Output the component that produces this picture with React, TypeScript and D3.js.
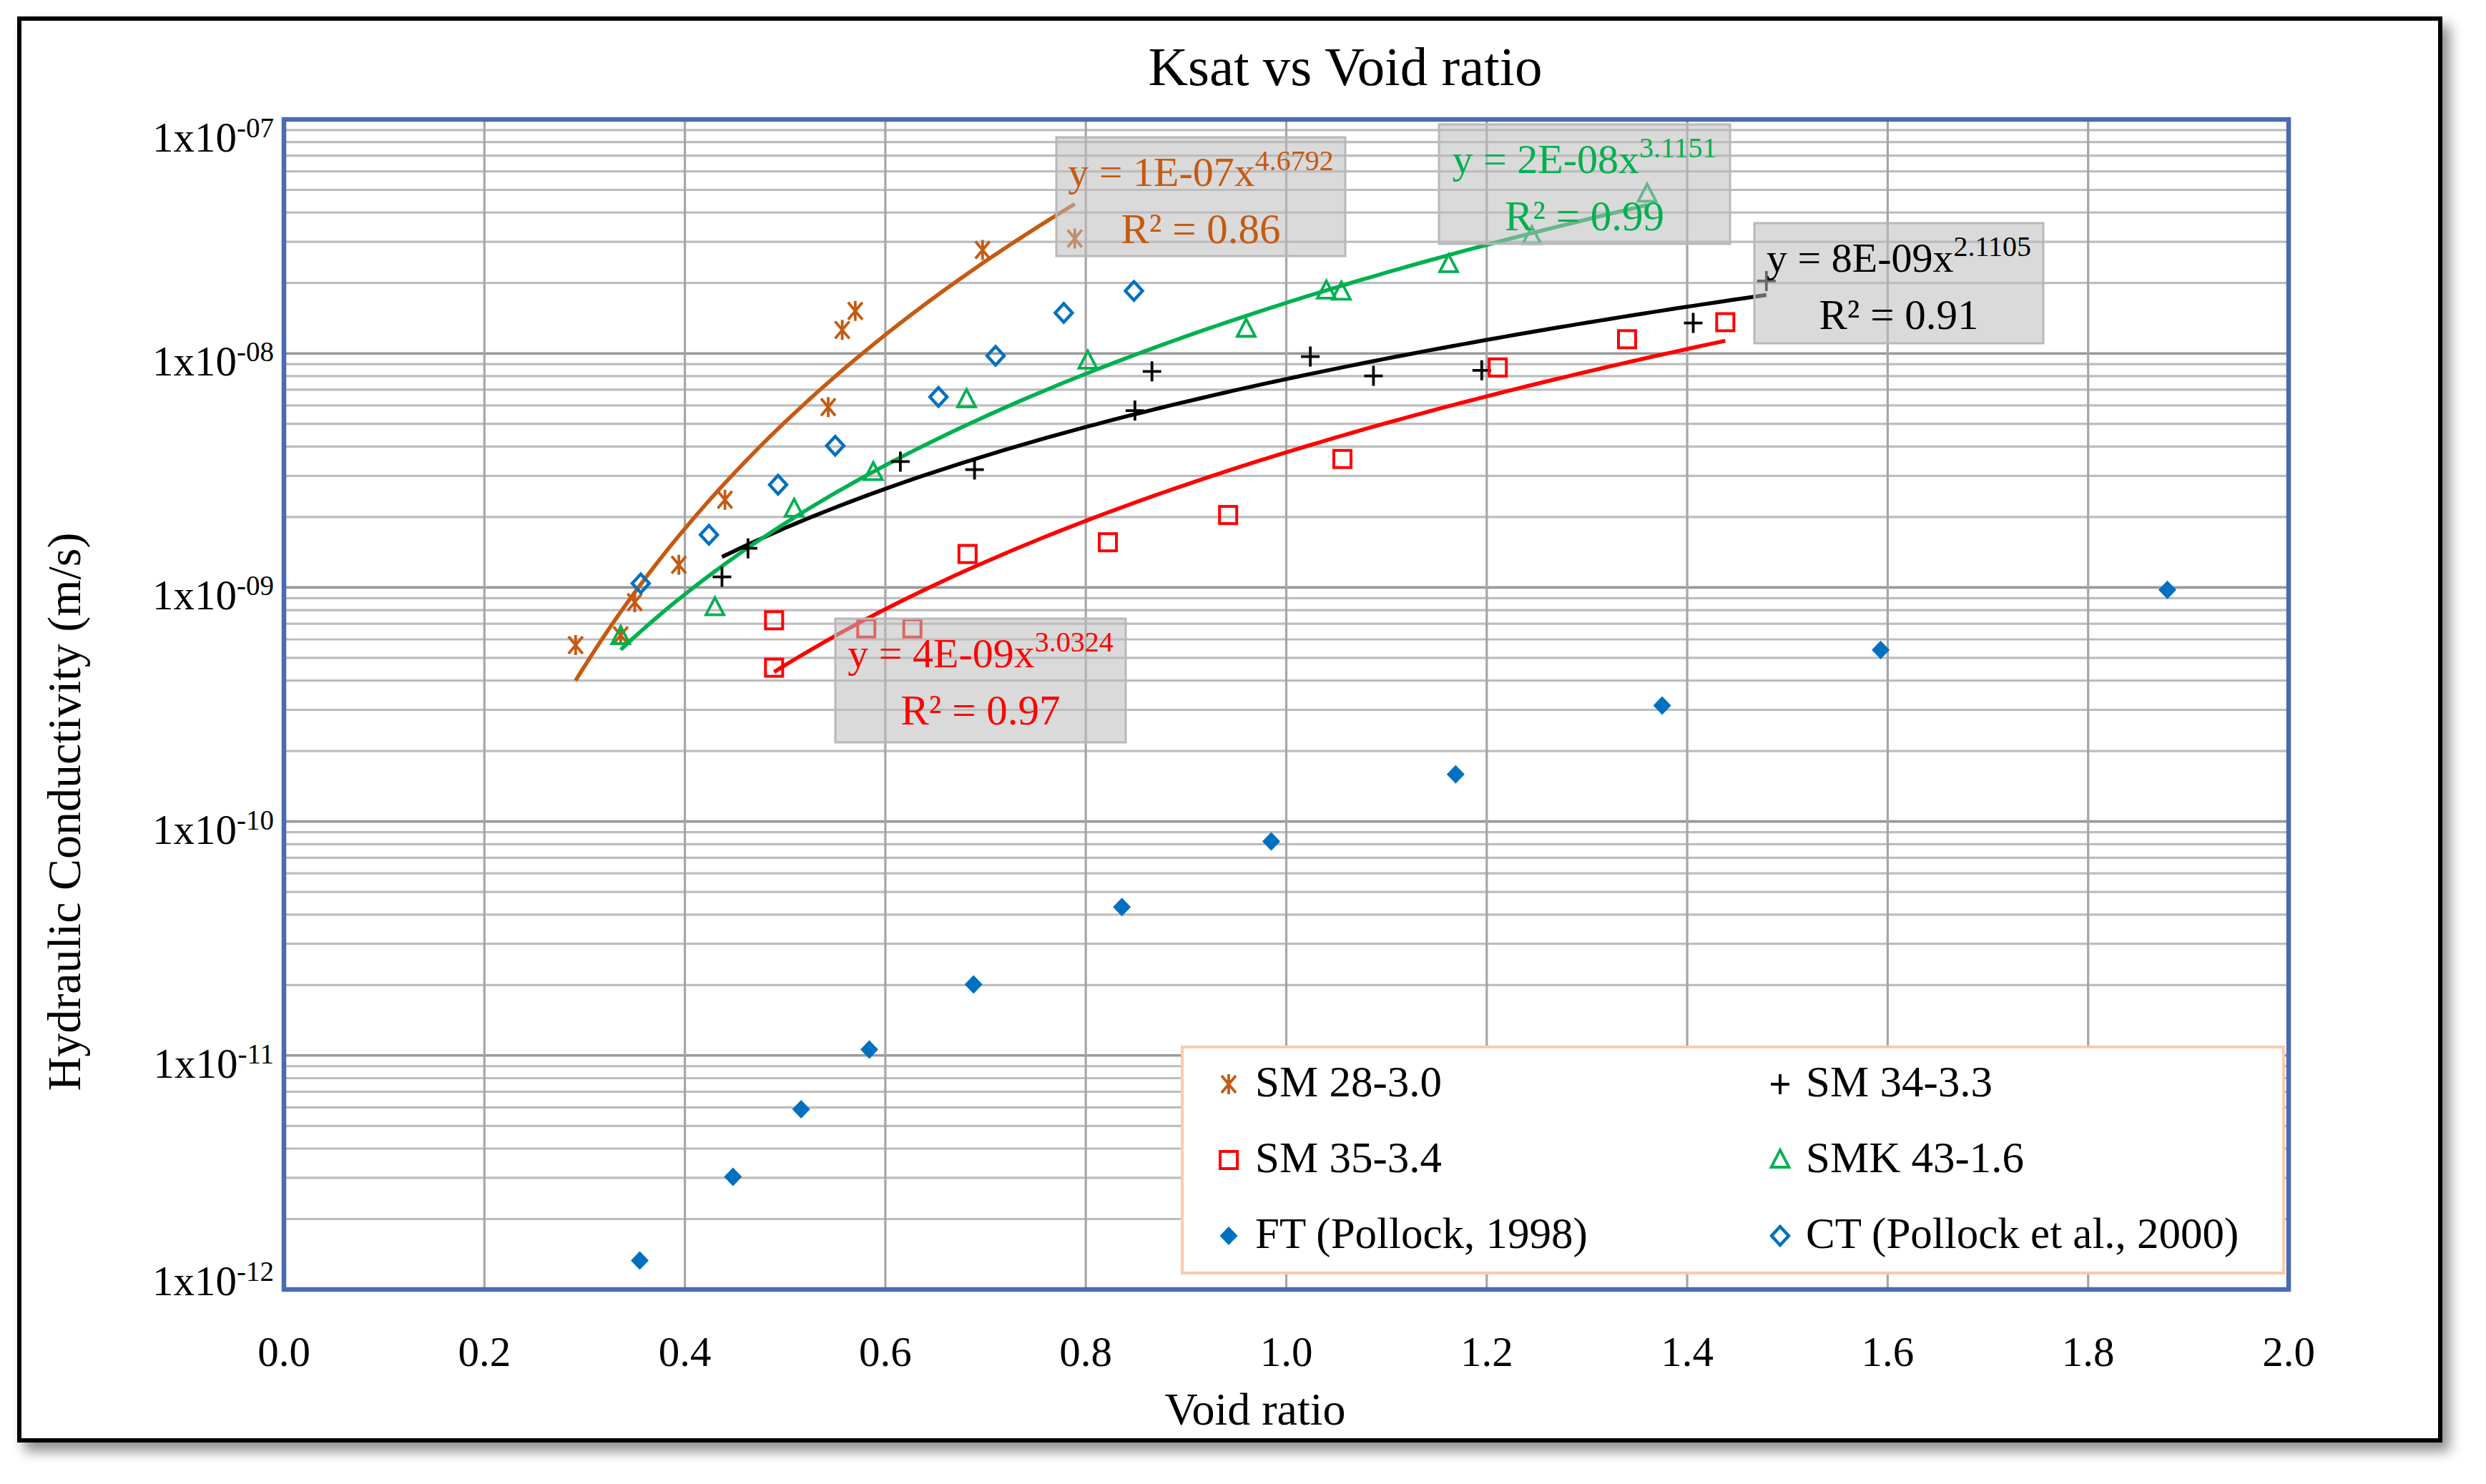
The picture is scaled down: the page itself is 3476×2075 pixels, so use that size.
import React from "react";
import * as d3 from "d3";

// ---------- data ----------
const sm28X = [0.291, 0.336, 0.350, 0.394, 0.440, 0.543, 0.557, 0.570, 0.697, 0.789];
const sm28Y = [5.67e-10, 6.25e-10, 8.65e-10, 1.25e-9, 2.37e-9, 5.9e-9, 1.26e-8, 1.52e-8, 2.77e-8, 3.1e-8];

const sm34X = [0.437, 0.463, 0.615, 0.689, 0.849, 0.866, 1.024, 1.087, 1.195, 1.406, 1.479];
const sm34Y = [1.11e-9, 1.47e-9, 3.45e-9, 3.19e-9, 5.7e-9, 8.38e-9, 9.7e-9, 8.02e-9, 8.47e-9, 1.35e-8, 2.04e-8];

const sm35X = [0.489, 0.489, 0.581, 0.627, 0.682, 0.822, 0.942, 1.056, 1.211, 1.340, 1.438];
const sm35Y = [4.54e-10, 7.24e-10, 6.68e-10, 6.68e-10, 1.39e-9, 1.56e-9, 2.04e-9, 3.54e-9, 8.71e-9, 1.15e-8, 1.36e-8];

const smk43X = [0.336, 0.430, 0.509, 0.588, 0.681, 0.802, 0.960, 1.040, 1.055, 1.162, 1.245, 1.360];
const smk43Y = [6.17e-10, 8.2e-10, 2.16e-9, 3.1e-9, 6.35e-9, 9.27e-9, 1.27e-8, 1.85e-8, 1.83e-8, 2.4e-8, 3.16e-8, 4.8e-8];

const ftX = [0.355, 0.448, 0.516, 0.584, 0.688, 0.836, 0.985, 1.169, 1.375, 1.593, 1.879];
const ftY = [1.33e-12, 3.03e-12, 5.89e-12, 1.06e-11, 2.01e-11, 4.31e-11, 8.22e-11, 1.59e-10, 3.13e-10, 5.41e-10, 9.77e-10];

const ctX = [0.356, 0.424, 0.493, 0.550, 0.653, 0.710, 0.778, 0.848];
const ctY = [1.04e-9, 1.68e-9, 2.75e-9, 4.03e-9, 6.52e-9, 9.77e-9, 1.49e-8, 1.85e-8];

const seriesNames = ["SM 28-3.0", "SM 34-3.3", "SM 35-3.4", "SMK 43-1.6", "FT (Pollock, 1998)", "CT (Pollock et al., 2000)"];

const eqMain = ["y = 1E-07x", "y = 8E-09x", "y = 4E-09x", "y = 2E-08x"];
const eqExp = ["4.6792", "2.1105", "3.0324", "3.1151"];
const eqR2 = ["R² = 0.86", "R² = 0.91", "R² = 0.97", "R² = 0.99"];

const xTicks = [0, 0.2, 0.4, 0.6, 0.8, 1.0, 1.2, 1.4, 1.6, 1.8, 2.0];
const yTicks = [1e-7, 1e-8, 1e-9, 1e-10, 1e-11, 1e-12];
const yTickExp = ["-07", "-08", "-09", "-10", "-11", "-12"];

// ---------- layout / style ----------
const W = 3476, H = 2075;
const L = 397, R = 3200, T = 167, B = 1803;
const FONT = "'Palatino Linotype', 'Book Antiqua', Palatino, 'Liberation Serif', 'DejaVu Serif', serif";

const ORANGE = "#c55a11", BLACK = "#000000", RED = "#ff0000", GREEN = "#00b050", BLUE = "#0070c0";

const x = d3.scaleLinear().domain([0, 2]).range([L, R]);
const y = d3.scaleLog().domain([1e-12, 1e-7]).range([B, T]);

type Marker = "star" | "plus" | "square" | "triangle" | "diamondOpen" | "diamond";

const series = [
  { name: seriesNames[0], xs: sm28X, ys: sm28Y, color: ORANGE, marker: "star" as Marker, fit: 0 },
  { name: seriesNames[1], xs: sm34X, ys: sm34Y, color: BLACK, marker: "plus" as Marker, fit: 1 },
  { name: seriesNames[2], xs: sm35X, ys: sm35Y, color: RED, marker: "square" as Marker, fit: 2 },
  { name: seriesNames[3], xs: smk43X, ys: smk43Y, color: GREEN, marker: "triangle" as Marker, fit: 3 },
  { name: seriesNames[4], xs: ftX, ys: ftY, color: BLUE, marker: "diamond" as Marker, fit: -1 },
  { name: seriesNames[5], xs: ctX, ys: ctY, color: BLUE, marker: "diamondOpen" as Marker, fit: -1 },
];

// equation label boxes (pixel layout)
const labelBoxes = [
  { x0: 1477, y0: 192, x1: 1881, y1: 358, color: ORANGE },
  { x0: 2453, y0: 312, x1: 2857, y1: 480, color: BLACK },
  { x0: 1168, y0: 865, x1: 1574, y1: 1038, color: RED },
  { x0: 2012, y0: 174, x1: 2419, y1: 341, color: GREEN },
];

// least-squares power fit (as Excel does: linear regression in log-log space)
function powerFit(xs: number[], ys: number[]) {
  const lx = xs.map(Math.log), ly = ys.map(Math.log);
  const mx = d3.mean(lx)!, my = d3.mean(ly)!;
  let sxy = 0, sxx = 0;
  lx.forEach((v, i) => { sxy += (v - mx) * (ly[i] - my); sxx += (v - mx) * (v - mx); });
  const b = sxy / sxx;
  const a = Math.exp(my - b * mx);
  return { a, b };
}

function MarkerShape({ type, color, cx, cy }: { type: Marker; color: string; cx: number; cy: number }) {
  const t = `translate(${cx},${cy})`;
  switch (type) {
    case "star":
      return <path transform={t} d="M-10,-12L10,12M10,-12L-10,12M0,-14V14" stroke={color} strokeWidth={3.8} fill="none" />;
    case "plus":
      return <path transform={t} d="M-13,0H13M0,-14V14" stroke={color} strokeWidth={3.8} fill="none" />;
    case "square":
      return <rect transform={t} x={-12} y={-12} width={24} height={24} stroke={color} strokeWidth={4} fill="none" />;
    case "triangle":
      return <path transform={t} d="M0,-14L12.5,10L-12.5,10Z" stroke={color} strokeWidth={3.8} fill="none" strokeLinejoin="miter" />;
    case "diamondOpen":
      return <path transform={t} d="M0,-13L12,0L0,13L-12,0Z" stroke={color} strokeWidth={4.4} fill="none" />;
    case "diamond":
      return <path transform={t} d="M0,-13L12.5,0L0,13L-12.5,0Z" fill={color} stroke="none" />;
  }
  return null;
}

export default function App() {
  const minorY: number[] = [];
  for (let e = -12; e < -7; e++) {
    for (let k = 2; k <= 9; k++) minorY.push(k * Math.pow(10, e));
  }
  const line = d3.line<[number, number]>().x((d) => x(d[0])).y((d) => y(d[1]));

  const legendRows = [1533, 1639, 1745];
  const legendCols = [{ mx: 1718, tx: 1755 }, { mx: 2489, tx: 2525 }];
  const legendOrder = [0, 1, 2, 3, 4, 5];

  return (
    <svg width={W} height={H} viewBox={`0 0 ${W} ${H}`} style={{ position: "absolute", left: 0, top: 0, background: "#fff" }} fontFamily={FONT}>
      <defs>
        <filter id="shadow" x="-5%" y="-5%" width="110%" height="110%">
          <feDropShadow dx="10" dy="12" stdDeviation="9" floodColor="#000" floodOpacity="0.45" />
        </filter>
        <clipPath id="plotClip">
          <rect x={L} y={T} width={R - L} height={B - T} />
        </clipPath>
      </defs>
      <rect x={0} y={0} width={W} height={H} fill="#fff" />
      {/* outer frame */}
      <rect x={27} y={26} width={3385} height={1988} fill="#fff" stroke="#000" strokeWidth={6} filter="url(#shadow)" />

      {/* title */}
      <text x={1881} y={119} textAnchor="middle" fontSize={77} fill="#000">Ksat vs Void ratio</text>

      {/* gridlines */}
      <g>
        {minorY.map((v, i) => (
          <line key={"my" + i} x1={L} x2={R} y1={y(v)} y2={y(v)} stroke="#bdbdbd" strokeWidth={3.2} />
        ))}
        {yTicks.map((v, i) => (
          <line key={"My" + i} x1={L} x2={R} y1={y(v)} y2={y(v)} stroke="#999999" strokeWidth={3.6} />
        ))}
        {xTicks.map((v, i) => (
          <line key={"gx" + i} x1={x(v)} x2={x(v)} y1={T} y2={B} stroke="#a6a6a6" strokeWidth={3.2} />
        ))}
      </g>

      {/* trendlines */}
      <g clipPath="url(#plotClip)">
        {series.filter((s) => s.fit >= 0).map((s, i) => {
          const { a, b } = powerFit(s.xs, s.ys);
          const x0 = d3.min(s.xs)!, x1 = d3.max(s.xs)!;
          const pts: [number, number][] = d3.range(0, 101).map((k) => {
            const xv = x0 + ((x1 - x0) * k) / 100;
            return [xv, a * Math.pow(xv, b)];
          });
          return <path key={"fit" + i} d={line(pts) || ""} stroke={s.color} strokeWidth={5.5} fill="none" />;
        })}
      </g>

      {/* markers */}
      <g>
        {series.map((s, si) =>
          s.xs.map((xv, i) => (
            <MarkerShape key={`m${si}-${i}`} type={s.marker} color={s.color} cx={x(xv)} cy={y(s.ys[i])} />
          ))
        )}
      </g>

      {/* equation labels */}
      {labelBoxes.map((bx, i) => {
        const cx = (bx.x0 + bx.x1) / 2;
        return (
          <g key={"lb" + i}>
            <rect x={bx.x0} y={bx.y0} width={bx.x1 - bx.x0} height={bx.y1 - bx.y0} fill="#bcbcbc" fillOpacity={0.55} stroke="#b8b8b8" strokeWidth={3} />
            <text x={cx} y={bx.y0 + 68} textAnchor="middle" fontSize={58} fill={bx.color}>
              {eqMain[i]}
              <tspan dy={-22} fontSize={40}>{eqExp[i]}</tspan>
            </text>
            <text x={cx} y={bx.y0 + 148} textAnchor="middle" fontSize={59} fill={bx.color}>{eqR2[i]}</text>
          </g>
        );
      })}

      {/* plot border */}
      <rect x={L} y={T} width={R - L} height={B - T} fill="none" stroke="#4a6bb0" strokeWidth={6.5} />

      {/* y tick labels */}
      {yTicks.map((v, i) => {
        const base = Math.min(Math.max(y(v) + 31, T + 45), B + 8);
        return (
          <text key={"yt" + i} x={383} y={base} textAnchor="end" fontSize={59} fill="#000">
            1x10<tspan dy={-20} fontSize={39}>{yTickExp[i]}</tspan>
          </text>
        );
      })}

      {/* x tick labels */}
      {xTicks.map((v, i) => (
        <text key={"xt" + i} x={x(v)} y={1910} textAnchor="middle" fontSize={59} fill="#000">{d3.format(".1f")(v)}</text>
      ))}

      {/* axis titles */}
      <text x={1755} y={1992} textAnchor="middle" fontSize={64} fill="#000">Void ratio</text>
      <text transform="translate(112,1135) rotate(-90)" textAnchor="middle" fontSize={66} fill="#000">Hydraulic Conductivity (m/s)</text>

      {/* legend */}
      <g>
        <rect x={1653} y={1464} width={1540} height={316} fill="#fff" stroke="#f8cbad" strokeWidth={4} />
        {legendOrder.map((si, k) => {
          const s = series[si];
          const row = Math.floor(k / 2), col = k % 2;
          const by = legendRows[row];
          const c = legendCols[col];
          return (
            <g key={"lg" + k}>
              <MarkerShape type={s.marker} color={s.color} cx={c.mx} cy={by - 17} />
              <text x={c.tx} y={by} fontSize={61} fill="#000">{s.name}</text>
            </g>
          );
        })}
      </g>
    </svg>
  );
}
